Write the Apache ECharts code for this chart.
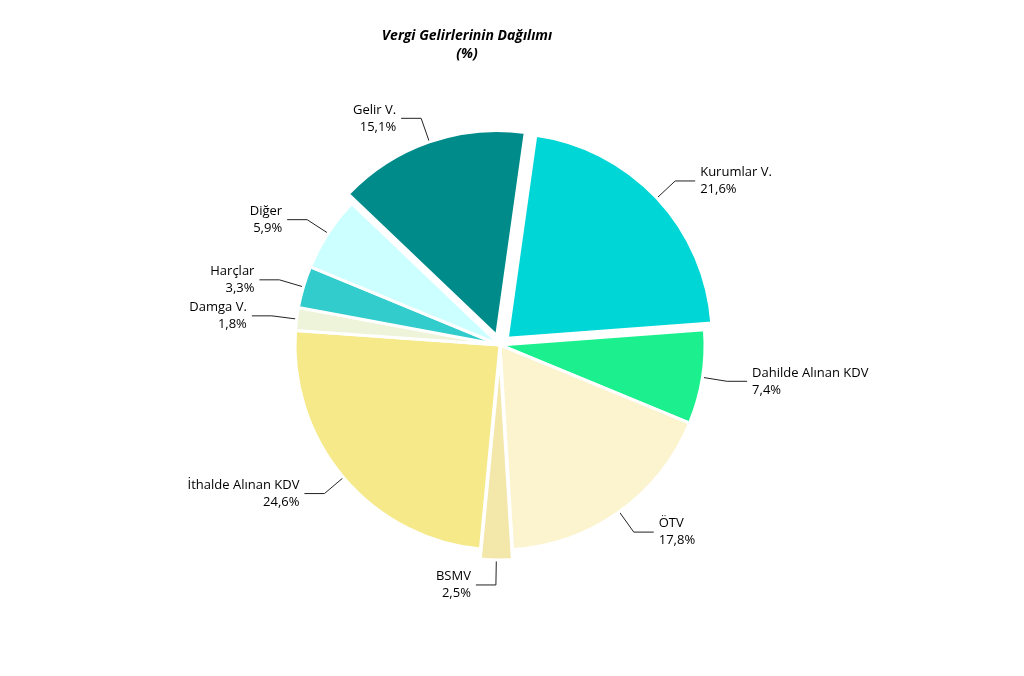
<!DOCTYPE html>
<html>
<head>
<meta charset="utf-8"/>
<script src="https://cdn.jsdelivr.net/npm/echarts@6/dist/echarts.min.js"></script>
<style>
    body{margin:0;background:#fff;}
    #main{width:1024px;height:676px;}
</style>
</head>
<body>
<div id="main"></div>
<script>
    // slice order, clockwise from top
    var names = ["Kurumlar V.", "Dahilde Alınan KDV", "ÖTV", "BSMV", "İthalde Alınan KDV", "Damga V.", "Harçlar", "Diğer", "Gelir V."];
    var values = [21.6, 7.4, 17.8, 2.5, 24.6, 1.8, 3.3, 5.9, 15.1];
    var colors = ["#00d6d6", "#1cf08e", "#fcf4cf", "#f3e7aa", "#f5e98a", "#eef4da", "#33cccc", "#ccffff", "#008b8b"];
    var exploded = ["Gelir V.", "BSMV", "Kurumlar V."];

    var chart = echarts.init(document.getElementById("main"));
    var data = [];
    for (var i = 0; i < names.length; i++) {
        data.push({name: names[i], value: values[i], itemStyle: {color: colors[i]},
            selected: exploded.indexOf(names[i]) >= 0});
    }
    chart.setOption({
        title: {
            text: "Vergi Gelirlerinin Dağılımı\n(%)",
            left: 462, top: 22, textAlign: "center",
            textStyle: {fontFamily: "Open Sans", fontStyle: "italic", fontWeight: "bold", fontSize: 14, lineHeight: 18, color: "#000"}
        },
        series: [{
            type: "pie",
            center: [500, 345],
            radius: 205,
            startAngle: 82,
            selectedMode: "multiple",
            selectedOffset: 10,
            data: data,
            itemStyle: {borderColor: "#fff", borderWidth: 3},
            label: {
                formatter: function (p) { return p.name + "\n" + String(p.value).replace(".", ",") + "%"; },
                fontFamily: "Open Sans", fontSize: 13, color: "#000", lineHeight: 17
            },
            labelLine: {length: 25, length2: 20, lineStyle: {color: "#222"}}
        }]
    });
</script>
</body>
</html>
